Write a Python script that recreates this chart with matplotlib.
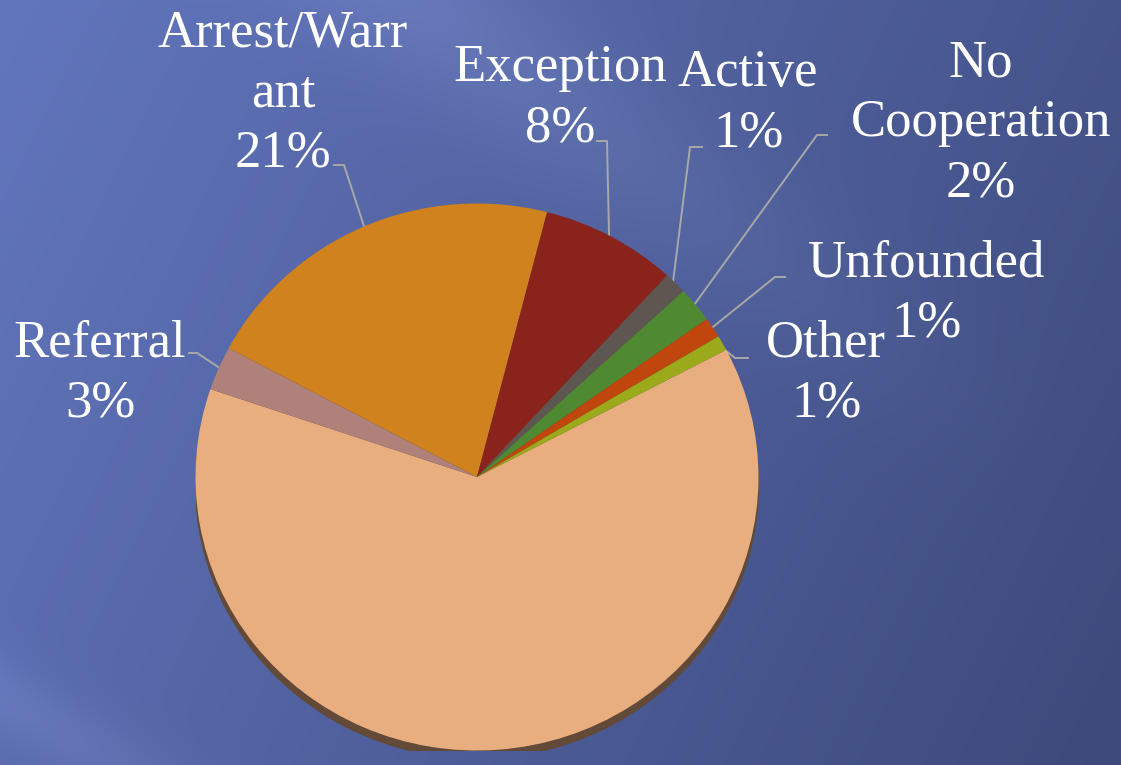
import numpy as np
import matplotlib
matplotlib.use("Agg")
import matplotlib.pyplot as plt
from matplotlib.patches import Ellipse

# ---- data ----
categories = ["Closed", "Referral", "Arrest/Warr\nant", "Exception", "Active",
              "No\nCooperation", "Unfounded", "Other"]
shares = [62.9, 2.6, 21.2, 7.8, 1.3, 2.1, 1.2, 0.9]
colors = ["#E8AE80", "#B0807A", "#CF821D", "#8A231C", "#5E5650",
          "#4F8A32", "#C0460D", "#9AAA1A"]

W, H = 1121, 765
fig = plt.figure(figsize=(W / 100, H / 100), dpi=100)

# background axes in pixel coordinates (y down)
bg = fig.add_axes([0, 0, 1, 1])
bg.set_xlim(0, W)
bg.set_ylim(H, 0)
bg.axis("off")

xx, yy = np.meshgrid(np.arange(W), np.arange(H))
light = np.array([0x62, 0x76, 0xBE]) / 255
dark = np.array([0x3C, 0x49, 0x7A]) / 255
t = np.clip(0.75 * xx / W + 0.25 * yy / H, 0, 1)[..., None]
img = light * (1 - t) + dark * t
# soft diagonal light streaks
d = ((xx - 420) * 0.6 - yy * 0.8)
band = np.exp(-(d / 80.0) ** 2) * np.clip(1 - (xx + yy) / 1500, 0, 1)
d2 = ((xx + 100) * 0.5 - (yy - 640) * 0.87)
band2 = np.exp(-(d2 / 40.0) ** 2) * np.clip(1 - xx / 500, 0, 1)
img = img + band[..., None] * 0.08 + band2[..., None] * 0.05
img = np.clip(img, 0, 1)
bg.imshow(img, extent=(0, W, H, 0), aspect="auto", zorder=0)

# pie axes (slightly flattened ellipse)
cx, cy, rx, ry = 477, 477, 281.5, 273.5
pax = fig.add_axes([(cx - rx) / W, (H - cy - ry) / H, 2 * rx / W, 2 * ry / H])
start = 27.7
wedges, _ = pax.pie(shares, colors=colors, startangle=start, counterclock=False,
                    radius=1.0, wedgeprops=dict(linewidth=0))
pax.add_patch(Ellipse((0, -0.028), 2.0, 2.0, color="#634A38", zorder=0))
pax.set_aspect("auto")
pax.set_xlim(-1, 1)
pax.set_ylim(-1, 1)
pax.axis("off")

font = dict(family="Liberation Serif", fontsize=38, color="white",
            ha="center", va="center")
line_step = 60

# label layout: block centre, leader start (near text), elbow
label_pos = [(500, 682), (100, 373), (283, 93), (560, 98), (748, 103),
             (981, 123), (927, 293), (826, 373)]
leader_pts = [None, ((189, 353), (197, 353)), ((334, 165), (344, 165)),
              ((597, 141), (607, 141)), ((702, 147), (690, 147)),
              ((827, 135), (817, 135)), ((785, 277), (775, 277)),
              ((748, 358), (735, 358))]

total = sum(shares)
theta = start
for name, val, pos, lp in zip(categories, shares, label_pos, leader_pts):
    span = 360 * val / total
    mid = np.radians(theta - span / 2)
    theta -= span
    lines = name.split("\n") + [f"{val:.0f}%"]
    y0 = pos[1] - (len(lines) - 1) / 2 * line_step
    for i, ln in enumerate(lines):
        bg.text(pos[0], y0 + i * line_step, ln, zorder=5, **font)
    if lp is not None:
        ex = cx + rx * 0.985 * np.cos(mid)
        ey = cy - ry * 0.985 * np.sin(mid)
        bg.plot([lp[0][0], lp[1][0], ex], [lp[0][1], lp[1][1], ey],
                color="#A8A8A8", lw=1.4, zorder=4)

fig.savefig("out.png", dpi=100)
